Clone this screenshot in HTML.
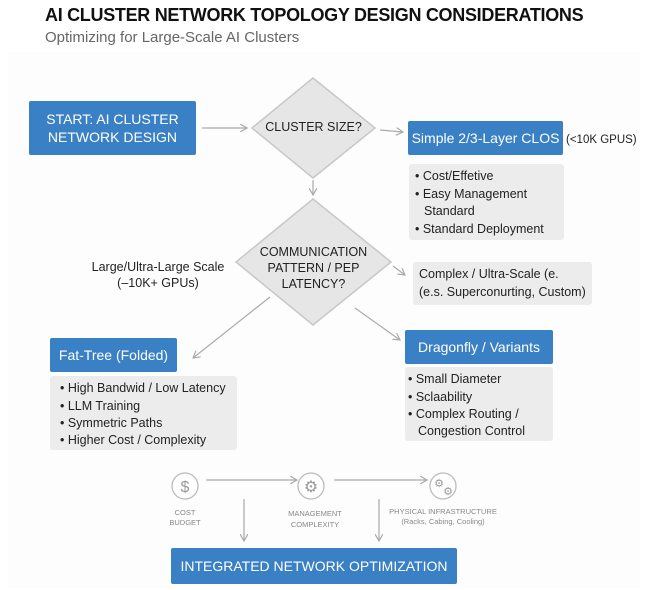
<!DOCTYPE html>
<html><head><meta charset="utf-8"><style>
body{margin:0;width:646px;height:590px;background:#fff;font-family:"Liberation Sans",sans-serif;overflow:hidden;position:relative}
.t{position:absolute;white-space:nowrap}
.blue{position:absolute;background:#3a80c5;color:#fff;display:flex;align-items:center;justify-content:center;text-align:center;border-radius:2px}
.gray{position:absolute;background:#ececec;border-radius:3px;color:#222;font-size:12.5px}
.gray div{position:absolute;white-space:nowrap}
</style></head><body>
<div style="position:absolute;left:8px;top:52px;width:632px;height:536px;background:#fdfdfd"></div>
<div class="t" style="left:45px;top:5px;font-size:18px;font-weight:bold;color:#111;letter-spacing:-0.3px">AI CLUSTER NETWORK TOPOLOGY DESIGN CONSIDERATIONS</div>
<div class="t" style="left:45px;top:29px;font-size:15px;color:#666">Optimizing for Large-Scale AI Clusters</div>

<svg style="position:absolute;left:0;top:0" width="646" height="590">
<defs><marker id="a" markerWidth="8" markerHeight="8" refX="7" refY="4" orient="auto" markerUnits="userSpaceOnUse"><path d="M0,0 L7,4 L0,8" fill="none" stroke="#aaa" stroke-width="1.2"/></marker></defs>
<g stroke="#aaa" stroke-width="1.2" fill="none" marker-end="url(#a)">
<line x1="202" y1="128" x2="247" y2="128"/>
<line x1="380" y1="130" x2="403" y2="132"/>
<line x1="313" y1="180" x2="313" y2="195"/>
<line x1="393" y1="266" x2="405" y2="275"/>
<line x1="270" y1="297" x2="193" y2="358"/>
<line x1="355" y1="308" x2="400" y2="340"/>
<line x1="206" y1="480" x2="297" y2="480"/>
<line x1="334" y1="480" x2="427" y2="480"/>
<line x1="244" y1="499" x2="244" y2="541"/>
<line x1="379" y1="499" x2="379" y2="541"/>
</g>
<polygon points="313,78 375,128 313,178 252,128" fill="#e6e6e6" stroke="#c8c8c8" stroke-width="1.5"/>
<polygon points="313,199 391,262 313,325 236,262" fill="#e6e6e6" stroke="#c8c8c8" stroke-width="1.5"/>
<g fill="#fff" stroke="#bbb" stroke-width="1.3">
<circle cx="185" cy="486" r="13"/><circle cx="311" cy="486" r="13"/><circle cx="443" cy="486" r="13"/>
</g>
<text x="185" y="492" font-size="16" fill="#999" text-anchor="middle" font-family="Liberation Sans">$</text>
<text x="311" y="492" font-size="16" fill="#999" text-anchor="middle" font-family="DejaVu Sans">⚙</text>
<text x="439" y="487" font-size="11" fill="#999" text-anchor="middle" font-family="DejaVu Sans">⚙</text>
<text x="448" y="495" font-size="11" fill="#999" text-anchor="middle" font-family="DejaVu Sans">⚙</text>
</svg>

<div class="blue" style="left:29px;top:101px;width:167px;height:54px;font-size:14px;line-height:18px">START: AI CLUSTER<br>NETWORK DESIGN</div>
<div class="t" style="left:252px;top:120px;width:123px;text-align:center;font-size:12.5px;color:#222">CLUSTER SIZE?</div>
<div class="blue" style="left:408px;top:121px;width:155px;height:34px;font-size:14px">Simple 2/3-Layer CLOS</div>
<div class="t" style="left:566px;top:134px;font-size:11.5px;color:#222">(&lt;10K GPUS)</div>
<div class="gray" style="left:409px;top:164px;width:155px;height:76px">
<div style="left:6px;top:5px">• Cost/Effetive</div>
<div style="left:6px;top:23px">• Easy Management</div>
<div style="left:15px;top:40px">Standard</div>
<div style="left:6px;top:58px">• Standard Deployment</div>
</div>
<div class="t" style="left:236px;top:244px;width:155px;text-align:center;font-size:12.5px;line-height:16px;color:#222">COMMUNICATION<br>PATTERN / PEP<br>LATENCY?</div>
<div class="t" style="left:80px;top:259px;width:156px;text-align:center;font-size:12.5px;line-height:16px;color:#222">Large/Ultra-Large Scale<br>(–10K+ GPUs)</div>
<div class="gray" style="left:413px;top:262px;width:179px;height:43px">
<div style="left:6px;top:5px">Complex / Ultra-Scale (e.</div>
<div style="left:6px;top:23px">(e.s. Superconurting, Custom)</div>
</div>
<div class="blue" style="left:50px;top:338px;width:127px;height:34px;font-size:14px">Fat-Tree (Folded)</div>
<div class="gray" style="left:50px;top:376px;width:187px;height:74px">
<div style="left:10px;top:5px">• High Bandwid / Low Latency</div>
<div style="left:10px;top:23px">• LLM Training</div>
<div style="left:10px;top:40px">• Symmetric Paths</div>
<div style="left:10px;top:57px">• Higher Cost / Complexity</div>
</div>
<div class="blue" style="left:405px;top:330px;width:148px;height:34px;font-size:14px">Dragonfly / Variants</div>
<div class="gray" style="left:405px;top:367px;width:148px;height:74px">
<div style="left:3px;top:5px">• Small Diameter</div>
<div style="left:3px;top:23px">• Sclaability</div>
<div style="left:3px;top:40px">• Complex Routing /</div>
<div style="left:13px;top:57px">Congestion Control</div>
</div>
<div class="t" style="left:145px;top:508px;width:80px;text-align:center;font-size:7.5px;line-height:10px;color:#888">COST<br>BUDGET</div>
<div class="t" style="left:265px;top:508px;width:100px;text-align:center;font-size:7.5px;line-height:11px;color:#888">MANAGEMENT<br>COMPLEXITY</div>
<div class="t" style="left:383px;top:507px;width:120px;text-align:center;font-size:7.5px;line-height:10px;color:#888">PHYSICAL INFRASTRUCTURE<br>(Racks, Cabing, Cooling)</div>
<div class="blue" style="left:171px;top:548px;width:286px;height:36px;font-size:14px">INTEGRATED NETWORK OPTIMIZATION</div>
</body></html>
